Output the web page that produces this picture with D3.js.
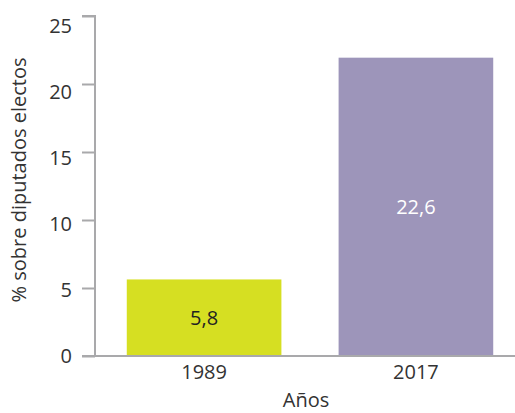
<!DOCTYPE html>
<html>
<head>
<meta charset="utf-8">
<script src="https://cdn.jsdelivr.net/npm/d3@7"></script>
<style>
  html, body { margin: 0; padding: 0; background: #fff; }
  svg text { font-family: "Open Sans", "Noto Sans", sans-serif; }
</style>
</head>
<body>
<svg id="chart" width="515" height="413"></svg>
<script>
// Share of women among elected deputies
const years = ["1989", "2017"];
const shares = [5.8, 22.6];
const shareLabels = ["5,8", "22,6"];
const barColors = ["#d6df22", "#9d95ba"];
const labelColors = ["#222222", "#ffffff"];
const yTicks = [0, 5, 10, 15, 20, 25];

const svg = d3.select("#chart");
const axisColor = "#a9a9ab";
const textColor = "#333333";
const fontSize = 20;

const x = d3.scaleBand()
  .domain(years)
  .range([95, 525])
  .paddingInner(0.27)
  .paddingOuter(0.15);

// value scale for bars and tick labels
const y = d3.scaleLinear()
  .domain([0, 25])
  .range([356, 26]);

// tick marks sit on a slightly taller axis
const yMarks = d3.scaleLinear()
  .domain([0, 25])
  .range([356, 16]);

// y axis line and tick marks
const yAxis = svg.append("g")
  .attr("transform", "translate(95,0)")
  .call(d3.axisLeft(yMarks).tickValues(yTicks).tickSize(13).tickFormat(""));
yAxis.select(".domain").attr("stroke", axisColor).attr("stroke-width", 2)
  .attr("d", `M-13,${yMarks(25)}H0V${yMarks(0)}`);
yAxis.selectAll(".tick line").attr("stroke", axisColor).attr("stroke-width", 2);

// y tick labels
svg.append("g").selectAll("text")
  .data(yTicks)
  .join("text")
  .attr("x", 72)
  .attr("y", d => y(d))
  .attr("dy", "0.36em")
  .attr("text-anchor", "end")
  .attr("font-size", fontSize)
  .attr("fill", textColor)
  .text(d => d);

// bars
svg.append("g").selectAll("rect")
  .data(years)
  .join("rect")
  .attr("x", d => x(d))
  .attr("width", x.bandwidth())
  .attr("y", (d, i) => y(shares[i]))
  .attr("height", (d, i) => y(0) - y(shares[i]))
  .attr("fill", (d, i) => barColors[i]);

// value labels
svg.append("g").selectAll("text")
  .data(years)
  .join("text")
  .attr("x", d => x(d) + x.bandwidth() / 2)
  .attr("y", (d, i) => (y(shares[i]) + y(0)) / 2)
  .attr("dy", "0.36em")
  .attr("text-anchor", "middle")
  .attr("font-size", fontSize)
  .attr("fill", (d, i) => labelColors[i])
  .text((d, i) => shareLabels[i]);

// x axis
const xAxis = svg.append("g")
  .attr("transform", `translate(0,${y(0)})`)
  .call(d3.axisBottom(x).tickSize(0).tickPadding(9));
xAxis.select(".domain").remove();
xAxis.selectAll(".tick text").attr("fill", textColor).attr("font-size", fontSize)
  .attr("font-family", "'Open Sans', sans-serif");
svg.append("line")
  .attr("x1", 82).attr("x2", 515)
  .attr("y1", y(0)).attr("y2", y(0))
  .attr("stroke", axisColor).attr("stroke-width", 2);

// axis titles
svg.append("text")
  .attr("x", 306).attr("y", 407)
  .attr("text-anchor", "middle")
  .attr("font-size", fontSize)
  .attr("fill", textColor)
  .text("Años");

svg.append("text")
  .attr("transform", "translate(26,180) rotate(-90)")
  .attr("text-anchor", "middle")
  .attr("font-size", fontSize)
  .attr("fill", textColor)
  .text("% sobre diputados electos");
</script>
</body>
</html>
